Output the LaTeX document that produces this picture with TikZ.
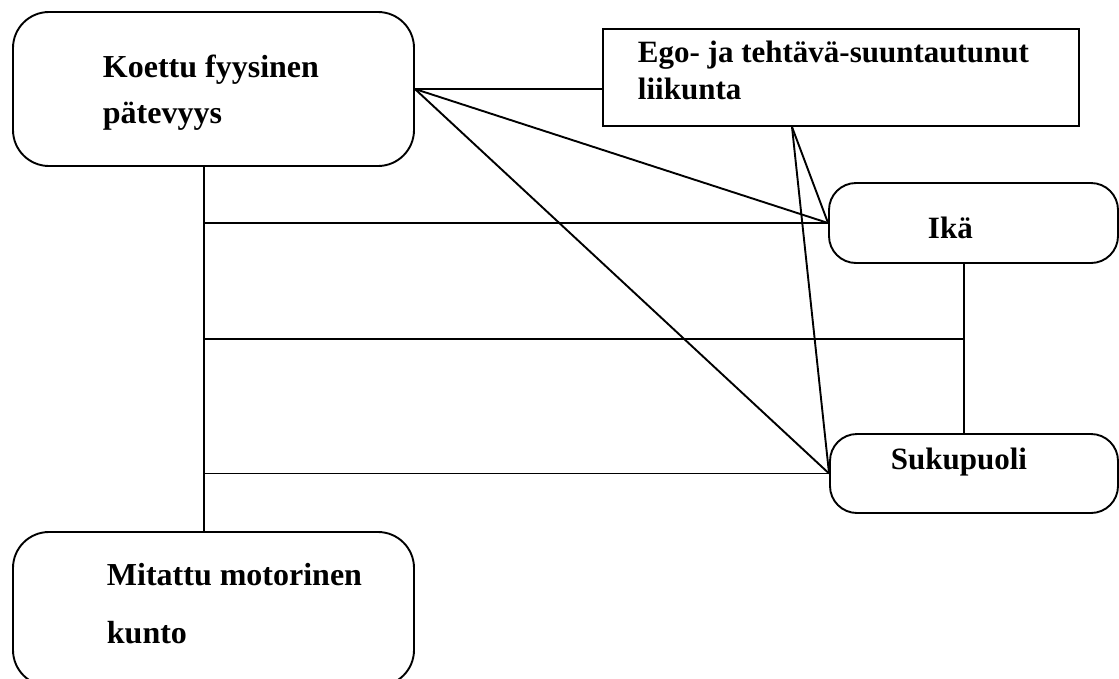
\documentclass[tikz,border=0pt]{standalone}
\usepackage{fontspec}
\setmainfont{Liberation Serif}
\begin{document}
\begin{tikzpicture}[x=1pt,y=-1pt,
  line width=1.9pt,
  rbox/.style={draw, rounded corners=#1, minimum width=401pt, minimum height=154pt, inner sep=0pt},
  rbox/.default=36pt,
  sbox/.style={draw, rounded corners=27pt, inner sep=0pt},
  plainbox/.style={draw, inner sep=0pt},
  big/.style={anchor=base west, inner sep=0pt, font=\bfseries\fontsize{32}{32}\selectfont},
  mid/.style={anchor=base west, inner sep=0pt, font=\bfseries\fontsize{31}{31}\selectfont}]
\useasboundingbox (0,0) rectangle (1119,678);
\clip (0,0) rectangle (1119,678);

% boxes
\node[rbox] (kfp) at (213.5,89) {};
\node[rbox] (mmk) at (213.5,609) {};
\node[plainbox, minimum width=476pt, minimum height=97pt] (ego) at (841,77.5) {};
\node[sbox, minimum width=289pt, minimum height=80pt] (ika) at (973.5,223) {};
\node[sbox, minimum width=288pt, minimum height=79pt] (suku) at (974,473.5) {};

% labels
\node[big] (kfp1) at (102,77) {Koettu fyysinen};
\node[big] (kfp2) at (102,123) {pätevyys};
\node[big] (mmk1) at (106,585) {Mitattu motorinen};
\node[big] (mmk2) at (106,643) {kunto};
\node[mid] (ego1) at (637,62) {Ego- ja tehtävä-suuntautunut};
\node[mid] (ego2) at (637,99) {liikunta};
\node[mid] (ikat) at (927,238) {Ikä};
\node[mid] (sukut) at (890,469) {Sukupuoli};

% connector columns
\coordinate (vl) at (204,0);
\coordinate (vr) at (964,0);
\coordinate (ex) at (792,0);
\coordinate (mid) at (0,339);
\coordinate (egob) at (ego.south -| ex);

% links
\draw (kfp.south -| vl) -- (mmk.north -| vl);
\draw (ika.west -| vl) -- (ika.west);
\draw (suku.west -| vl) -- (suku.west);
\draw (mid -| vl) -- (mid -| vr);
\draw (ika.south -| vr) -- (suku.north -| vr);
\draw (kfp.east) -- (kfp.east -| ego.west);
\draw (kfp.east) -- (ika.west);
\draw (kfp.east) -- (suku.west);
\draw (egob) -- (ika.west);
\draw (egob) -- (suku.west);
\end{tikzpicture}
\end{document}
